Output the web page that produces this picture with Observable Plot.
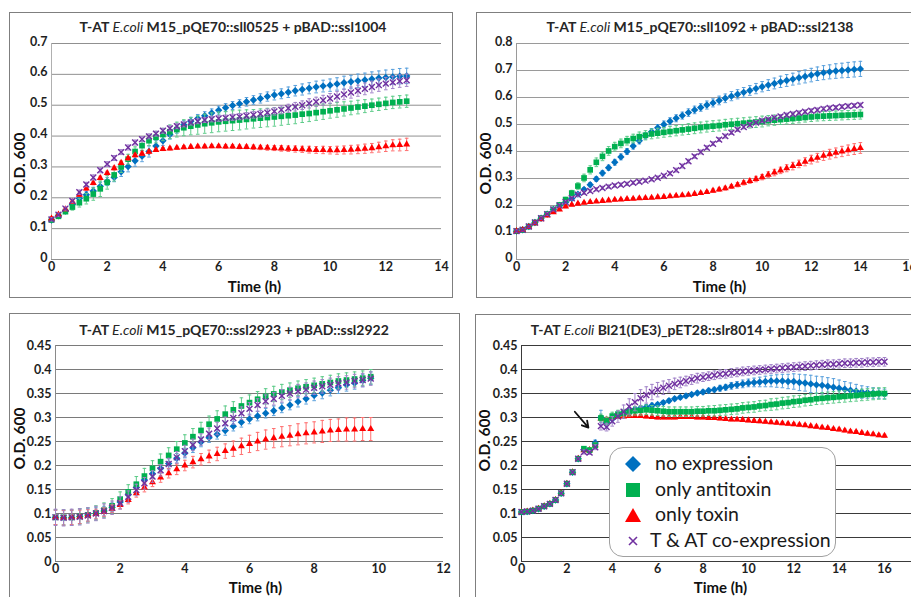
<!DOCTYPE html>
<html><head><meta charset="utf-8">
<script src="https://cdn.jsdelivr.net/npm/d3@7"></script>
<script src="https://cdn.jsdelivr.net/npm/@observablehq/plot@0.6"></script>
<style>
body{margin:0;background:#fff;}
#root{position:relative;width:911px;height:597px;overflow:hidden;background:#fff;font-family:Lato,"Open Sans",sans-serif;}
.box{position:absolute;border:1.5px solid #7f7f7f;box-sizing:border-box;}
.title{position:absolute;transform:translate(-50%,-50%);white-space:nowrap;font-weight:bold;font-size:14px;color:#262626;}
.title i{font-weight:normal;}
.plot{position:absolute;}
.legend{position:absolute;border:1px solid #a0a0a0;border-radius:14px;background:#fff;box-sizing:border-box;}
.lrow{position:absolute;left:0;height:24px;font-size:19.5px;color:#1a1a1a;white-space:nowrap;}
</style></head>
<body><div id="root"></div>
<script>
// ---------- data ----------
const seriesNames = ["no expression","only antitoxin","only toxin","T & AT co-expression"];

// Panel 1: M15_pQE70::sll0525 + pBAD::ssl1004 (every 0.25 h)
const p1Time = d3.range(0, 12.76, 0.25);
const p1Blue = [0.128,0.142,0.157,0.178,0.198,0.21,0.222,0.237,0.253,0.266,0.284,0.301,0.32,0.335,0.35,0.368,0.385,0.405,0.423,0.437,0.448,0.457,0.466,0.475,0.484,0.492,0.499,0.505,0.511,0.517,0.522,0.528,0.533,0.537,0.542,0.547,0.551,0.555,0.559,0.562,0.565,0.569,0.573,0.576,0.579,0.582,0.585,0.588,0.59,0.592,0.594,0.595];
const p1Green = [0.128,0.14,0.155,0.17,0.184,0.197,0.212,0.229,0.25,0.274,0.3,0.325,0.35,0.369,0.385,0.396,0.405,0.414,0.421,0.427,0.432,0.436,0.44,0.443,0.446,0.448,0.45,0.452,0.454,0.456,0.458,0.46,0.462,0.464,0.466,0.468,0.471,0.473,0.476,0.479,0.482,0.485,0.488,0.491,0.494,0.497,0.5,0.503,0.506,0.509,0.511,0.513];
const p1Red = [0.133,0.146,0.163,0.187,0.21,0.23,0.248,0.264,0.28,0.296,0.313,0.328,0.338,0.343,0.349,0.355,0.358,0.36,0.362,0.364,0.365,0.366,0.366,0.367,0.367,0.366,0.366,0.365,0.365,0.364,0.363,0.362,0.361,0.36,0.359,0.358,0.357,0.356,0.355,0.355,0.354,0.354,0.355,0.356,0.357,0.359,0.361,0.364,0.367,0.37,0.371,0.373];
const p1Purple = [0.13,0.145,0.165,0.19,0.218,0.243,0.266,0.289,0.309,0.329,0.348,0.363,0.379,0.39,0.399,0.408,0.417,0.425,0.432,0.438,0.444,0.448,0.452,0.455,0.457,0.459,0.461,0.463,0.466,0.469,0.472,0.476,0.48,0.485,0.49,0.495,0.5,0.506,0.511,0.516,0.522,0.528,0.535,0.541,0.547,0.553,0.559,0.565,0.57,0.574,0.578,0.581];
const p1BlueErr = [0.004,0.004,0.005,0.006,0.008,0.01,0.012,0.013,0.013,0.014,0.015,0.017,0.018,0.018,0.018,0.017,0.016,0.015,0.014,0.013,0.013,0.013,0.013,0.013,0.013,0.013,0.013,0.013,0.014,0.014,0.015,0.015,0.016,0.016,0.017,0.017,0.018,0.018,0.019,0.019,0.02,0.02,0.021,0.021,0.022,0.022,0.023,0.023,0.024,0.024,0.025,0.025];
const p1GreenErr = [0.005,0.005,0.006,0.01,0.014,0.017,0.02,0.025,0.022,0.02,0.018,0.016,0.015,0.015,0.016,0.018,0.02,0.022,0.024,0.026,0.028,0.03,0.031,0.032,0.032,0.032,0.032,0.032,0.031,0.03,0.03,0.03,0.03,0.029,0.028,0.028,0.027,0.026,0.025,0.025,0.024,0.024,0.023,0.022,0.022,0.021,0.02,0.02,0.02,0.02,0.02,0.02];
const p1RedErr = [0.006,0.005,0.005,0.005,0.006,0.006,0.006,0.006,0.006,0.006,0.006,0.006,0.006,0.006,0.006,0.005,0.005,0.005,0.005,0.005,0.005,0.005,0.005,0.005,0.005,0.006,0.006,0.006,0.006,0.007,0.007,0.008,0.008,0.009,0.009,0.01,0.01,0.011,0.011,0.012,0.012,0.013,0.013,0.014,0.014,0.015,0.015,0.016,0.017,0.018,0.019,0.02];
const p1PurpleErr = [0.005,0.005,0.005,0.006,0.007,0.007,0.008,0.008,0.008,0.008,0.008,0.008,0.008,0.008,0.008,0.008,0.008,0.008,0.008,0.008,0.008,0.008,0.008,0.009,0.009,0.009,0.01,0.01,0.01,0.011,0.011,0.012,0.012,0.013,0.013,0.014,0.014,0.015,0.015,0.016,0.016,0.017,0.017,0.018,0.018,0.019,0.019,0.02,0.02,0.02,0.02,0.02];

// Panel 2: M15_pQE70::sll1092 + pBAD::ssl2138
const p2Time = d3.range(0, 14.01, 0.25);
const p2Blue = [0.105,0.11,0.122,0.137,0.153,0.168,0.185,0.2,0.212,0.226,0.242,0.259,0.277,0.298,0.32,0.34,0.36,0.38,0.4,0.42,0.44,0.458,0.473,0.488,0.5,0.512,0.523,0.533,0.544,0.554,0.563,0.572,0.58,0.589,0.597,0.605,0.612,0.619,0.626,0.633,0.64,0.646,0.652,0.658,0.663,0.668,0.673,0.678,0.683,0.688,0.692,0.695,0.698,0.7,0.702,0.704,0.706];
const p2Green = [0.105,0.11,0.122,0.137,0.153,0.168,0.185,0.202,0.222,0.246,0.272,0.302,0.332,0.36,0.382,0.402,0.418,0.43,0.44,0.448,0.455,0.46,0.465,0.468,0.471,0.474,0.477,0.48,0.483,0.486,0.489,0.492,0.494,0.496,0.499,0.501,0.503,0.505,0.507,0.509,0.511,0.514,0.516,0.518,0.52,0.522,0.524,0.526,0.528,0.53,0.531,0.532,0.533,0.534,0.535,0.536,0.537];
const p2Red = [0.105,0.109,0.12,0.134,0.149,0.163,0.175,0.185,0.196,0.203,0.207,0.21,0.213,0.215,0.217,0.219,0.221,0.222,0.224,0.225,0.227,0.228,0.229,0.231,0.232,0.234,0.236,0.238,0.24,0.243,0.246,0.25,0.255,0.259,0.264,0.27,0.277,0.284,0.291,0.298,0.305,0.314,0.322,0.33,0.338,0.346,0.354,0.362,0.37,0.377,0.384,0.39,0.395,0.4,0.405,0.409,0.413];
const p2Purple = [0.105,0.11,0.122,0.137,0.153,0.168,0.185,0.2,0.213,0.227,0.24,0.247,0.254,0.26,0.265,0.27,0.274,0.277,0.28,0.284,0.288,0.292,0.297,0.303,0.31,0.319,0.331,0.346,0.364,0.382,0.398,0.414,0.429,0.444,0.457,0.47,0.481,0.491,0.499,0.507,0.514,0.519,0.525,0.53,0.535,0.539,0.543,0.547,0.551,0.554,0.558,0.561,0.563,0.566,0.568,0.57,0.572];
const p2BlueErr = [0.004,0.004,0.004,0.004,0.004,0.004,0.004,0.005,0.005,0.006,0.006,0.007,0.008,0.009,0.01,0.01,0.011,0.011,0.011,0.011,0.012,0.012,0.012,0.012,0.013,0.013,0.013,0.013,0.014,0.014,0.014,0.015,0.015,0.016,0.016,0.017,0.017,0.018,0.018,0.019,0.019,0.02,0.02,0.021,0.022,0.022,0.023,0.024,0.025,0.025,0.026,0.026,0.027,0.027,0.028,0.028,0.028];
const p2GreenErr = [0.004,0.004,0.004,0.004,0.004,0.005,0.005,0.006,0.008,0.01,0.012,0.014,0.015,0.016,0.016,0.016,0.016,0.016,0.016,0.016,0.017,0.017,0.018,0.018,0.018,0.019,0.019,0.019,0.02,0.02,0.02,0.02,0.02,0.02,0.02,0.02,0.02,0.02,0.02,0.02,0.02,0.019,0.019,0.018,0.018,0.018,0.018,0.017,0.017,0.017,0.017,0.017,0.017,0.017,0.017,0.017,0.017];
const p2RedErr = [0.004,0.004,0.004,0.004,0.004,0.004,0.004,0.004,0.004,0.004,0.004,0.004,0.004,0.004,0.004,0.004,0.004,0.004,0.004,0.004,0.004,0.004,0.004,0.004,0.004,0.004,0.004,0.004,0.004,0.004,0.005,0.005,0.006,0.006,0.007,0.007,0.008,0.008,0.009,0.01,0.01,0.011,0.012,0.012,0.013,0.014,0.014,0.015,0.016,0.016,0.017,0.018,0.018,0.019,0.019,0.02,0.02];
const p2PurpleErr = [0.004,0.004,0.004,0.004,0.005,0.005,0.005,0.005,0.005,0.006,0.006,0.006,0.006,0.006,0.006,0.006,0.006,0.006,0.006,0.006,0.006,0.006,0.006,0.006,0.006,0.006,0.007,0.007,0.007,0.007,0.007,0.007,0.007,0.007,0.007,0.007,0.007,0.007,0.007,0.007,0.007,0.007,0.007,0.007,0.007,0.007,0.007,0.007,0.007,0.007,0.007,0.007,0.007,0.007,0.007,0.007,0.007];

// Panel 3: M15_pQE70::ssl2923 + pBAD::ssl2922
const p3Time = d3.range(0, 9.76, 0.25);
const p3Blue = [0.092,0.091,0.091,0.094,0.097,0.1,0.105,0.113,0.124,0.139,0.154,0.17,0.183,0.194,0.204,0.215,0.226,0.237,0.249,0.258,0.265,0.273,0.282,0.29,0.297,0.303,0.309,0.314,0.32,0.326,0.333,0.339,0.346,0.351,0.357,0.362,0.368,0.372,0.377,0.382];
const p3Green = [0.092,0.092,0.092,0.094,0.097,0.101,0.107,0.116,0.13,0.145,0.161,0.178,0.194,0.208,0.221,0.234,0.247,0.26,0.273,0.286,0.297,0.307,0.316,0.324,0.331,0.338,0.344,0.349,0.353,0.357,0.361,0.364,0.367,0.37,0.373,0.376,0.378,0.38,0.382,0.385];
const p3Red = [0.092,0.091,0.092,0.093,0.096,0.099,0.103,0.11,0.118,0.128,0.142,0.154,0.165,0.175,0.184,0.192,0.2,0.207,0.213,0.219,0.224,0.23,0.235,0.24,0.245,0.25,0.254,0.257,0.26,0.262,0.265,0.267,0.269,0.271,0.273,0.274,0.275,0.275,0.276,0.276];
const p3Purple = [0.092,0.091,0.092,0.093,0.096,0.1,0.105,0.112,0.122,0.135,0.149,0.163,0.177,0.19,0.203,0.217,0.23,0.243,0.254,0.266,0.277,0.288,0.299,0.309,0.318,0.326,0.334,0.339,0.345,0.35,0.355,0.358,0.362,0.365,0.368,0.371,0.373,0.376,0.378,0.381];
const p3BlueErr = [0.015,0.015,0.015,0.015,0.013,0.012,0.01,0.009,0.009,0.009,0.01,0.01,0.01,0.01,0.01,0.01,0.01,0.01,0.01,0.01,0.01,0.01,0.01,0.01,0.01,0.01,0.01,0.01,0.01,0.01,0.011,0.011,0.011,0.012,0.012,0.012,0.013,0.013,0.013,0.013];
const p3GreenErr = [0.016,0.016,0.016,0.016,0.015,0.015,0.015,0.015,0.015,0.015,0.016,0.016,0.016,0.016,0.016,0.016,0.017,0.017,0.017,0.017,0.017,0.017,0.017,0.017,0.016,0.016,0.016,0.016,0.016,0.015,0.015,0.015,0.015,0.015,0.015,0.015,0.015,0.015,0.015,0.015];
const p3RedErr = [0.015,0.015,0.015,0.014,0.012,0.01,0.009,0.008,0.008,0.008,0.008,0.009,0.009,0.01,0.01,0.011,0.011,0.012,0.012,0.013,0.014,0.015,0.016,0.017,0.018,0.019,0.02,0.02,0.021,0.021,0.022,0.022,0.022,0.023,0.023,0.023,0.024,0.024,0.024,0.024];
const p3PurpleErr = [0.017,0.017,0.017,0.017,0.016,0.015,0.015,0.014,0.013,0.012,0.012,0.012,0.012,0.012,0.012,0.012,0.012,0.012,0.012,0.012,0.013,0.013,0.013,0.013,0.013,0.013,0.013,0.013,0.013,0.013,0.014,0.014,0.014,0.014,0.014,0.014,0.014,0.014,0.014,0.014];

// Panel 4: Bl21(DE3)_pET28::slr8014 + pBAD::slr8013
const p4Time = d3.range(0, 16.01, 0.25);
const p4Blue = [0.103,0.104,0.106,0.11,0.115,0.12,0.128,0.142,0.162,0.186,0.214,0.233,0.232,0.247,0.3,0.29,0.297,0.305,0.31,0.315,0.317,0.32,0.322,0.325,0.327,0.331,0.335,0.339,0.342,0.345,0.348,0.351,0.353,0.356,0.358,0.361,0.363,0.366,0.368,0.37,0.372,0.373,0.374,0.375,0.376,0.376,0.376,0.375,0.375,0.373,0.372,0.37,0.368,0.367,0.365,0.363,0.361,0.359,0.357,0.355,0.353,0.352,0.351,0.35,0.349];
const p4Green = [0.103,0.104,0.106,0.11,0.115,0.12,0.128,0.142,0.162,0.186,0.214,0.235,0.232,0.242,0.299,0.293,0.303,0.307,0.309,0.312,0.314,0.315,0.316,0.315,0.314,0.313,0.312,0.312,0.312,0.312,0.312,0.313,0.313,0.314,0.314,0.315,0.316,0.317,0.318,0.32,0.321,0.322,0.324,0.325,0.327,0.328,0.33,0.331,0.333,0.334,0.336,0.337,0.339,0.34,0.341,0.342,0.343,0.344,0.345,0.346,0.347,0.348,0.349,0.35,0.35];
const p4Red = [0.103,0.104,0.106,0.11,0.115,0.12,0.128,0.142,0.162,0.186,0.214,0.232,0.232,0.242,0.298,0.296,0.3,0.301,0.302,0.303,0.303,0.303,0.302,0.301,0.3,0.3,0.3,0.3,0.301,0.301,0.301,0.3,0.3,0.299,0.299,0.298,0.297,0.296,0.296,0.295,0.294,0.293,0.292,0.291,0.29,0.289,0.288,0.287,0.286,0.285,0.284,0.282,0.281,0.279,0.278,0.276,0.275,0.273,0.271,0.27,0.268,0.266,0.265,0.263,0.262];
const p4Purple = [0.103,0.104,0.106,0.11,0.115,0.12,0.128,0.142,0.162,0.186,0.214,0.228,0.227,0.238,0.282,0.28,0.292,0.302,0.312,0.323,0.332,0.34,0.347,0.353,0.358,0.362,0.366,0.37,0.373,0.376,0.379,0.382,0.384,0.386,0.388,0.39,0.391,0.393,0.394,0.396,0.397,0.398,0.399,0.4,0.401,0.402,0.403,0.404,0.405,0.406,0.407,0.408,0.409,0.41,0.411,0.411,0.412,0.413,0.413,0.414,0.414,0.415,0.415,0.416,0.416];
const p4BlueErr = [0.002,0.002,0.002,0.002,0.002,0.002,0.002,0.002,0.002,0.002,0.002,0.004,0.004,0.006,0.015,0.01,0.008,0.006,0.005,0.005,0.005,0.005,0.005,0.005,0.004,0.004,0.004,0.004,0.004,0.004,0.004,0.004,0.004,0.005,0.005,0.006,0.006,0.007,0.007,0.008,0.008,0.009,0.01,0.011,0.012,0.013,0.014,0.015,0.016,0.017,0.017,0.018,0.018,0.018,0.018,0.018,0.017,0.016,0.015,0.014,0.013,0.012,0.011,0.01,0.01];
const p4GreenErr = [0.002,0.002,0.002,0.002,0.002,0.002,0.002,0.002,0.002,0.002,0.002,0.004,0.004,0.005,0.008,0.008,0.008,0.008,0.008,0.009,0.009,0.01,0.01,0.01,0.01,0.01,0.01,0.01,0.01,0.01,0.01,0.01,0.01,0.01,0.011,0.011,0.011,0.011,0.011,0.011,0.011,0.011,0.011,0.011,0.012,0.012,0.012,0.012,0.012,0.012,0.012,0.012,0.012,0.012,0.012,0.012,0.012,0.012,0.012,0.012,0.012,0.012,0.012,0.012,0.012];
const p4RedErr = [0.002,0.002,0.002,0.002,0.002,0.002,0.002,0.002,0.002,0.002,0.002,0.003,0.003,0.003,0.004,0.004,0.003,0.003,0.003,0.003,0.003,0.003,0.003,0.003,0.003,0.003,0.003,0.003,0.003,0.003,0.003,0.003,0.003,0.003,0.003,0.003,0.003,0.003,0.003,0.003,0.003,0.003,0.003,0.003,0.003,0.003,0.003,0.003,0.003,0.003,0.003,0.003,0.003,0.003,0.003,0.003,0.003,0.003,0.003,0.003,0.003,0.003,0.003,0.003,0.003];
const p4PurpleErr = [0.002,0.002,0.002,0.002,0.002,0.002,0.002,0.002,0.002,0.002,0.002,0.004,0.004,0.005,0.008,0.008,0.01,0.012,0.014,0.016,0.018,0.018,0.017,0.016,0.015,0.014,0.013,0.012,0.011,0.01,0.01,0.01,0.009,0.009,0.009,0.009,0.009,0.009,0.009,0.009,0.009,0.009,0.009,0.009,0.009,0.009,0.009,0.009,0.009,0.009,0.009,0.009,0.009,0.009,0.009,0.009,0.009,0.009,0.009,0.009,0.009,0.009,0.009,0.009,0.009];

// annotation arrow in panel 4 (data units)
const p4Arrow = [{t1: 2.35, od1: 0.312, t2: 2.95, od2: 0.279}];

// tick values
const ticks14 = [0,2,4,6,8,10,12,14];
const ticks16 = [0,2,4,6,8,10,12,14,16];
const ticks12 = [0,2,4,6,8,10,12];
const yTicks07 = [0,0.1,0.2,0.3,0.4,0.5,0.6,0.7];
const yTicks08 = [0,0.1,0.2,0.3,0.4,0.5,0.6,0.7,0.8];
const yTicks045 = [0,0.05,0.1,0.15,0.2,0.25,0.3,0.35,0.4,0.45];

// ---------- styling ----------
const col = {blue:"#0070C0", green:"#00B050", red:"#FF0000", purple:"#7030A0"};
const errCol = {blue:"#5aa0dc", green:"#5ccb88", red:"#ff6f6f", purple:"#a082c8"};
const diamondSym = {draw(c, s){const r = Math.sqrt(s/Math.PI); c.moveTo(0,-r); c.lineTo(r,0); c.lineTo(0,r); c.lineTo(-r,0); c.closePath();}};
const capSym = {draw(c, s){const r = Math.sqrt(s/Math.PI); c.moveTo(-r,0); c.lineTo(r,0);}};
const markerOpts = {
  blue: {symbol: diamondSym, r: 3.7, fill: col.blue, stroke: "none"},
  green: {symbol: "square", r: 3.2, fill: col.green, stroke: "none"},
  red: {symbol: "triangle", r: 2.6, fill: col.red, stroke: "none"},
  purple: {symbol: "times", r: 2.8, stroke: col.purple, strokeWidth: 1.4, fill: "none"}
};

function rows(time, vals, errs) {
  return vals.map((v, i) => ({t: time[i], od: v, err: errs[i] ?? errs[errs.length - 1]}));
}

const panels = [
  {svg:{left:9,top:12,width:443,height:285}, m:{l:42,r:11,t:31,b:38}, box:{left:9,top:12,width:444,height:286},
   xDomain:[0,14], xTicks:ticks14, yDomain:[0,0.7], yTicks:yTicks07, grid:"#909090", axis:"#b0b0b0", tickDy:-2,
   yLab:{x:20,y:163}, xLab:{x:254,y:287},
   title:{x:233,y:26,html:'T-AT <i>E.coli</i> M15_pQE70::sll0525 + pBAD::ssl1004'},
   order:["blue","green","red","purple"],
   data:{blue:rows(p1Time,p1Blue,p1BlueErr), green:rows(p1Time,p1Green,p1GreenErr), red:rows(p1Time,p1Red,p1RedErr), purple:rows(p1Time,p1Purple,p1PurpleErr)}},
  {svg:{left:476,top:12,width:435,height:285}, m:{l:40,r:2,t:31,b:38}, box:{left:476,top:12,width:470,height:286},
   xDomain:[0,16], xTicks:ticks16, yDomain:[0,0.8], yTicks:yTicks08, grid:"#9a9a9a", axis:"#9a9a9a", tickDy:-2,
   yLab:{x:486,y:163}, xLab:{x:719,y:287},
   title:{x:700,y:26,html:'T-AT <i>E.coli</i> M15_pQE70::sll1092 + pBAD::ssl2138'},
   order:["blue","green","red","purple"],
   data:{blue:rows(p2Time,p2Blue,p2BlueErr), green:rows(p2Time,p2Green,p2GreenErr), red:rows(p2Time,p2Red,p2RedErr), purple:rows(p2Time,p2Purple,p2PurpleErr)}},
  {svg:{left:9,top:313,width:451,height:284}, m:{l:46,r:17,t:32,b:36}, box:{left:9,top:313,width:451,height:300},
   xDomain:[0,12], xTicks:ticks12, yDomain:[0,0.45], yTicks:yTicks045, grid:"#7a7a7a", axis:"#8a8a8a", tickDy:0,
   yLab:{x:20,y:438}, xLab:{x:255,y:588},
   title:{x:234,y:329,html:'T-AT <i>E.coli</i> M15_pQE70::ssl2923 + pBAD::ssl2922'},
   order:["blue","green","red","purple"],
   data:{blue:rows(p3Time,p3Blue,p3BlueErr), green:rows(p3Time,p3Green,p3GreenErr), red:rows(p3Time,p3Red,p3RedErr), purple:rows(p3Time,p3Purple,p3PurpleErr)}},
  {svg:{left:475,top:314,width:436,height:283}, m:{l:46,r:0,t:31,b:36}, box:{left:475,top:314,width:470,height:300},
   xDomain:[0,17.19], xTicks:ticks16, yDomain:[0,0.45], yTicks:yTicks045, grid:"#3a3a3a", axis:"#3a3a3a", tickDy:0,
   yLab:{x:485,y:440}, xLab:{x:720,y:588},
   title:{x:700,y:329,html:'T-AT <i>E.coli</i> Bl21(DE3)_pET28::slr8014 + pBAD::slr8013'},
   order:["blue","red","green","purple"], arrow:p4Arrow,
   data:{blue:rows(p4Time,p4Blue,p4BlueErr), green:rows(p4Time,p4Green,p4GreenErr), red:rows(p4Time,p4Red,p4RedErr), purple:rows(p4Time,p4Purple,p4PurpleErr)}}
];

const fmt = d => d === 0 ? "0" : String(+d.toFixed(2));
const root = document.getElementById("root");

for (const p of panels) {
  const box = document.createElement("div");
  box.className = "box";
  Object.assign(box.style, {left:p.box.left+"px", top:p.box.top+"px", width:p.box.width+"px", height:p.box.height+"px"});
  root.appendChild(box);

  const fl = p.svg.left + p.m.l, fr = p.svg.left + p.svg.width - p.m.r;
  const ft = p.svg.top + p.m.t, fb = p.svg.top + p.svg.height - p.m.b;

  const marks = [
    Plot.ruleY(p.yTicks, {stroke: p.grid, strokeWidth: 1}),
    Plot.ruleX([0], {stroke: p.axis, strokeWidth: 1}),
    Plot.axisY({ticks: p.yTicks, tickSize: 0, tickPadding: 4, tickFormat: fmt, label: null, dy: p.tickDy, fontSize: 12.5, fontWeight: "bold", fill: "#1e1e1e"}),
    Plot.axisX({ticks: p.xTicks, tickSize: 0, tickPadding: 3, label: null, fontSize: 12.5, fontWeight: "bold", fill: "#1e1e1e"}),
    Plot.text(["O.D. 600"], {frameAnchor: "left", rotate: -90, dx: p.yLab.x - fl, dy: p.yLab.y - (ft + fb) / 2, fontSize: 15.5, fontWeight: "bold", fill: "#111", lineAnchor: "middle", textAnchor: "middle"}),
    Plot.text(["Time (h)"], {frameAnchor: "bottom", lineAnchor: "middle", dx: p.xLab.x - (fl + fr) / 2, dy: p.xLab.y - fb, fontSize: 15, fontWeight: "bold", fill: "#111"})
  ];
  for (const k of p.order) {
    const d = p.data[k];
    marks.push(
      Plot.ruleX(d, {x: "t", y1: r => r.od - r.err, y2: r => r.od + r.err, stroke: errCol[k], strokeWidth: 1}),
      Plot.dot(d, {x: "t", y: r => r.od + r.err, symbol: capSym, r: 1.8, stroke: errCol[k], fill: "none", strokeWidth: 1}),
      Plot.dot(d, {x: "t", y: r => r.od - r.err, symbol: capSym, r: 1.8, stroke: errCol[k], fill: "none", strokeWidth: 1}),
      Plot.dot(d, {x: "t", y: "od", ...markerOpts[k]})
    );
  }
  if (p.arrow) {
    marks.push(Plot.arrow(p.arrow, {x1: "t1", y1: "od1", x2: "t2", y2: "od2", stroke: "#111", strokeWidth: 1.8, headLength: 8}));
  }
  const chart = Plot.plot({
    width: p.svg.width, height: p.svg.height,
    marginLeft: p.m.l, marginRight: p.m.r, marginTop: p.m.t, marginBottom: p.m.b,
    x: {domain: p.xDomain}, y: {domain: p.yDomain},
    style: {fontFamily: "Lato, 'Open Sans', sans-serif", fontSize: "12px", fontWeight: "bold", background: "transparent", overflow: "visible", color: "#1e1e1e"},
    marks
  });
  chart.classList.add("plot");
  Object.assign(chart.style, {position: "absolute", left: p.svg.left + "px", top: p.svg.top + "px"});
  root.appendChild(chart);

  const t = document.createElement("div");
  t.className = "title";
  t.innerHTML = p.title.html;
  Object.assign(t.style, {left: p.title.x + "px", top: p.title.y + "px"});
  root.appendChild(t);
}

// legend (panel 4)
const legend = document.createElement("div");
legend.className = "legend";
Object.assign(legend.style, {left: "609px", top: "447px", width: "227px", height: "110px"});
const legendGlyphs = [
  '<svg width="18" height="18"><path d="M9,1L17,9L9,17L1,9Z" fill="' + col.blue + '"/></svg>',
  '<svg width="18" height="18"><rect x="2" y="2" width="14" height="14" fill="' + col.green + '"/></svg>',
  '<svg width="18" height="18"><path d="M9,2L17,16L1,16Z" fill="' + col.red + '"/></svg>',
  '<svg width="18" height="18"><path d="M5,5L13,13M13,5L5,13" stroke="' + col.purple + '" stroke-width="1.6"/></svg>'
];
const legendTextLeft = [45, 45, 45, 40];
seriesNames.forEach((name, i) => {
  const row = document.createElement("div");
  row.className = "lrow";
  row.style.top = (3 + i * 25.7) + "px";
  row.style.width = "222px";
  row.innerHTML = '<span style="position:absolute;left:14px;top:3px;">' + legendGlyphs[i] + '</span><span style="position:absolute;left:' + legendTextLeft[i] + 'px;top:0px;line-height:24px;">' + name + '</span>';
  legend.appendChild(row);
});
root.appendChild(legend);
</script>
</body></html>
